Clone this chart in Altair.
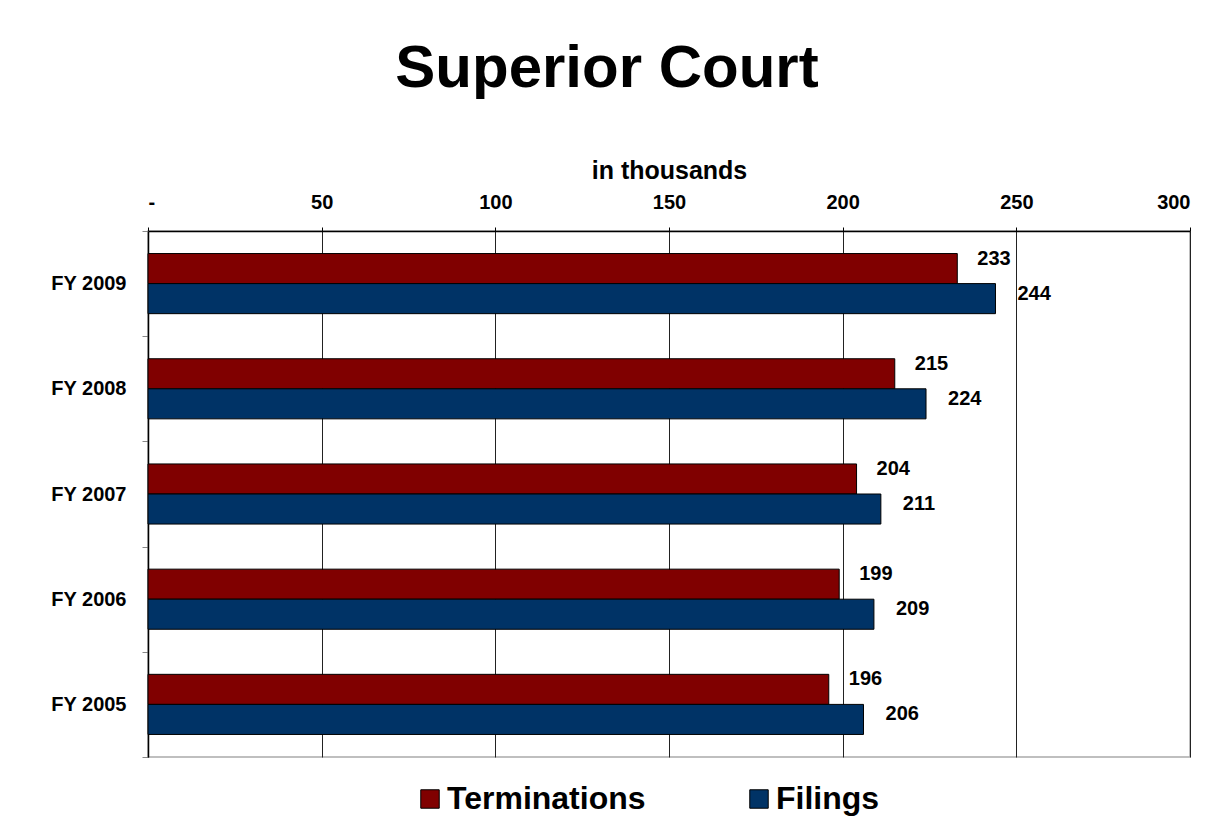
import altair as alt
import pandas as pd

years = ["FY 2009", "FY 2008", "FY 2007", "FY 2006", "FY 2005"]
terminations = [233, 215, 204, 199, 196]
filings = [244, 224, 211, 209, 206]
series = ["Terminations", "Filings"]
colors = ["#800000", "#003366"]
x_ticks = [0, 50, 100, 150, 200, 250, 300]

rows = []
for i, y in enumerate(years):
    rows.append({"year": y, "series": "Terminations", "value": terminations[i]})
    rows.append({"year": y, "series": "Filings", "value": filings[i]})
df = pd.DataFrame(rows)

FONT = "Liberation Sans"

y_enc = alt.Y(
    "year:N",
    sort=years,
    scale=alt.Scale(paddingInner=0, paddingOuter=0),
    axis=alt.Axis(
        title=None,
        labelFont=FONT,
        labelFontSize=20,
        labelFontWeight="bold",
        labelColor="#000000",
        labelPadding=16,
        tickBand="extent",
        tickSize=6,
        tickColor="#888888",
        domainColor="#000000",
        domainWidth=1.5,
        grid=False,
    ),
)
yoff_enc = alt.YOffset(
    "series:N",
    sort=series,
    scale=alt.Scale(paddingInner=0, paddingOuter=0.75),
)
x_enc = alt.X(
    "value:Q",
    scale=alt.Scale(domain=[0, 300], nice=False),
    axis=alt.Axis(
        orient="top",
        title="in thousands",
        titleFont=FONT,
        titleFontSize=25,
        titleFontWeight="bold",
        titleColor="#000000",
        titlePadding=9,
        values=x_ticks,
        labelExpr="datum.value == 0 ? '-' : datum.label",
        labelFont=FONT,
        labelFontSize=20,
        labelFontWeight="bold",
        labelColor="#000000",
        labelPadding=15,
        tickSize=4,
        tickColor="#000000",
        domainColor="#000000",
        domainWidth=1.5,
        grid=True,
        gridColor="#222222",
        gridWidth=1,
    ),
)

bars = alt.Chart(df).mark_bar(stroke="#000000", strokeWidth=1).encode(
    y=y_enc,
    yOffset=yoff_enc,
    x=x_enc,
    color=alt.Color(
        "series:N",
        sort=series,
        scale=alt.Scale(domain=series, range=colors),
        legend=alt.Legend(
            title=None,
            orient="none",
            legendX=266,
            legendY=552,
            direction="horizontal",
            columnPadding=97,
            symbolType="square",
            symbolSize=340,
            symbolStrokeColor="#000000",
            symbolStrokeWidth=1,
            symbolOpacity=1,
            labelFont=FONT,
            labelFontSize=32,
            labelFontWeight="bold",
            labelColor="#000000",
            labelOffset=1,
            labelLimit=400,
        ),
    ),
)

labels_t = alt.Chart(df).transform_filter(alt.datum.series == "Terminations").mark_text(
    align="left", baseline="middle", dx=20, dy=-10,
    font=FONT, fontSize=20, fontWeight="bold", color="#000000",
).encode(
    y=alt.Y("year:N", sort=years),
    yOffset=alt.YOffset("series:N", sort=series),
    x="value:Q",
    text="value:Q",
)
labels_f = alt.Chart(df).transform_filter(alt.datum.series == "Filings").mark_text(
    align="left", baseline="middle", dx=22, dy=-5,
    font=FONT, fontSize=20, fontWeight="bold", color="#000000",
).encode(
    y=alt.Y("year:N", sort=years),
    yOffset=alt.YOffset("series:N", sort=series),
    x="value:Q",
    text="value:Q",
)

chart = alt.layer(bars, labels_t, labels_f).properties(
    width=1042,
    height=526,
    autosize=alt.AutoSizeParams(type="none"),
    padding={"left": 140, "top": 223, "right": 10, "bottom": 60},
    background="#ffffff",
    title=alt.TitleParams(
        "Superior Court",
        font=FONT,
        fontSize=60,
        fontWeight="bold",
        color="#000000",
        anchor="middle",
        dx=-62,
        offset=58,
    ),
).configure_view(stroke="#aaaaaa", strokeWidth=1.5)

chart.save("out.html", embed_options={"renderer": "svg", "actions": False})
